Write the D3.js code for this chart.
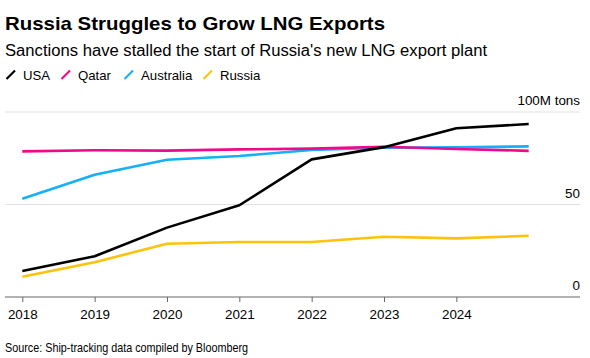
<!DOCTYPE html>
<html><head><meta charset="utf-8">
<script src="https://cdn.jsdelivr.net/npm/d3@7"></script>
<style>body{margin:0;background:#fff;} svg{display:block;font-family:"Liberation Sans",Arial,sans-serif;}</style>
</head><body>
<svg id="c" width="590" height="358"></svg>
<script>
const years = [2018, 2019, 2020, 2021, 2022, 2023, 2024, 2025];
const tickYears = [2018, 2019, 2020, 2021, 2022, 2023, 2024];
const usa       = [14, 22, 37.5, 49.6, 74.4, 81, 91.2, 93.5];
const qatar     = [78.7, 79.3, 79.1, 79.8, 80.2, 81.2, 80, 79];
const australia = [53.1, 66.1, 74.2, 76.2, 79.5, 80.7, 80.9, 81.4];
const russia    = [11, 18.8, 28.8, 29.7, 29.7, 32.6, 31.7, 33.1];
const yTicks = [0, 50, 100];
const seriesNames = ["USA", "Qatar", "Australia", "Russia"];
const colors = ["#000000", "#f0098c", "#15b0f8", "#fdc30a"];

const svg = d3.select("#c");
const x = d3.scaleLinear().domain([2018, 2025]).range([22.3, 528.7]);
const y = d3.scaleLinear().domain([0, 100]).range([297, 112]);

svg.append("text").attr("x", 5).attr("y", 30).attr("font-size", 19).attr("font-weight", "bold").attr("fill", "#000")
  .attr("textLength", 380).attr("lengthAdjust", "spacingAndGlyphs")
  .text("Russia Struggles to Grow LNG Exports");
svg.append("text").attr("x", 5).attr("y", 56).attr("font-size", 15.6).attr("fill", "#000")
  .attr("textLength", 482).attr("lengthAdjust", "spacingAndGlyphs")
  .text("Sanctions have stalled the start of Russia's new LNG export plant");

// legend
const legX = [6, 61, 124, 203];
seriesNames.forEach((n, i) => {
  const g = svg.append("g").attr("transform", `translate(${legX[i]},0)`);
  g.append("line").attr("x1", 0.5).attr("y1", 79).attr("x2", 9).attr("y2", 70.5)
    .attr("stroke", colors[i]).attr("stroke-width", 2.2);
  g.append("text").attr("x", 17).attr("y", 80).attr("font-size", 13.2).attr("fill", "#000").text(n);
});

// gridlines
svg.append("g").selectAll("line").data(yTicks.filter(d => d > 0)).join("line")
  .attr("x1", 5).attr("x2", 580).attr("y1", d => y(d)).attr("y2", d => y(d))
  .attr("stroke", "#e1e1e1").attr("stroke-width", 1);

// y labels
svg.append("g").selectAll("text").data(yTicks).join("text")
  .attr("x", 580).attr("y", d => y(d) - 7).attr("text-anchor", "end").attr("font-size", 13.4).attr("fill", "#000")
  .text(d => d === 100 ? "100M tons" : d);

// x axis
const xAxis = d3.axisBottom(x).tickValues(tickYears).tickFormat(d3.format("d")).tickSize(5).tickPadding(7);
const ax = svg.append("g").attr("transform", `translate(0,${y(0)})`).call(xAxis);
ax.select(".domain").remove();
ax.selectAll(".tick line").attr("stroke", "#666");
ax.selectAll(".tick text").attr("font-size", 13.4).attr("fill", "#000").attr("font-family", "Liberation Sans, Arial, sans-serif");
svg.append("line").attr("x1", 5).attr("x2", 580).attr("y1", y(0)).attr("y2", y(0)).attr("stroke", "#666").attr("stroke-width", 1.2);

// lines
const data = [usa, qatar, australia, russia];
const line = d3.line().x((d, i) => x(years[i])).y(d => y(d));
const order = [3, 2, 1, 0];
order.forEach(i => {
  svg.append("path").attr("d", line(data[i])).attr("fill", "none")
    .attr("stroke", colors[i]).attr("stroke-width", 2.6).attr("stroke-linejoin", "round");
});

svg.append("text").attr("x", 5).attr("y", 352).attr("font-size", 12.6).attr("fill", "#000")
  .attr("textLength", 243).attr("lengthAdjust", "spacingAndGlyphs")
  .text("Source: Ship-tracking data compiled by Bloomberg");
</script>
</body></html>
